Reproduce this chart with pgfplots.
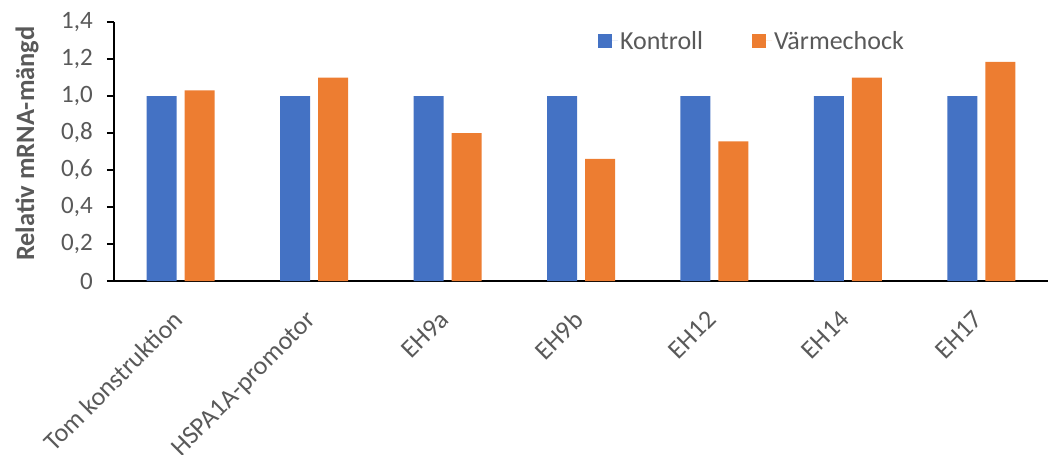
\documentclass[border=0pt]{standalone}
\usepackage{pgfplots}
\pgfplotsset{compat=1.18}
\usepackage{fontspec}
\setmainfont{Carlito}

\definecolor{kontroll}{HTML}{4472C4}
\definecolor{varme}{HTML}{ED7D31}
\definecolor{txt}{HTML}{595959}

\begin{document}
\begin{tikzpicture}
\begin{axis}[
  at={(0,0)}, anchor=south west,
  scale only axis,
  width=934bp, height=259bp,
  ybar=8bp, bar width=30bp,
  xmin=-0.5, xmax=6.5,
  ymin=0, ymax=1.4,
  axis x line*=bottom,
  axis y line*=left,
  axis line style={black, line width=1.2bp},
  xtick=data,
  xticklabels={Tom konstruktion, HSPA1A-promotor, EH9a, EH9b, EH12, EH14, EH17},
  xtick style={draw=none},
  xticklabel style={xshift=-9bp, yshift=-21bp, rotate=45, anchor=north east, inner sep=0pt,
    font=\fontsize{26bp}{30bp}\selectfont, text=txt},
  ytick={0,0.2,0.4,0.6,0.8,1.0,1.2,1.4},
  yticklabels={0,{0,2},{0,4},{0,6},{0,8},{1,0},{1,2},{1,4}},
  ytick style={black, line width=1.2bp},
  tick align=outside,
  major tick length=7bp,
  yticklabel style={font=\fontsize{25bp}{29bp}\selectfont, text=txt, anchor=east, inner sep=0pt, xshift=-14bp},
  ylabel={Relativ mRNA-mängd},
  ylabel style={at={(axis description cs:-0.093,0.53)}, anchor=center, rotate=0,
    font=\bfseries\fontsize{26.5bp}{30bp}\selectfont, text=txt},
  legend style={at={(axis description cs:0.518,0.927)}, anchor=west, draw=none, fill=none,
    font=\fontsize{26bp}{30bp}\selectfont, text=txt, legend columns=2,
    /tikz/every even column/.append style={column sep=47bp},
    inner sep=0pt},
  legend image code/.code={\fill[#1] (0bp,-7bp) rectangle (14bp,7bp);
    \path (14bp,0) -- (20bp,0);},
  clip=false,
]
\addplot[fill=kontroll, draw=none] coordinates {
  (0,1.00) (1,1.00) (2,1.00) (3,1.00) (4,1.00) (5,1.00) (6,1.00)
};
\addplot[fill=varme, draw=none] coordinates {
  (0,1.03) (1,1.10) (2,0.80) (3,0.66) (4,0.755) (5,1.10) (6,1.185)
};
\legend{Kontroll, Värmechock}
\end{axis}
\pgfresetboundingbox
\path[use as bounding box] (-114bp,-174bp) rectangle (943bp,281bp);
\end{tikzpicture}
\end{document}
